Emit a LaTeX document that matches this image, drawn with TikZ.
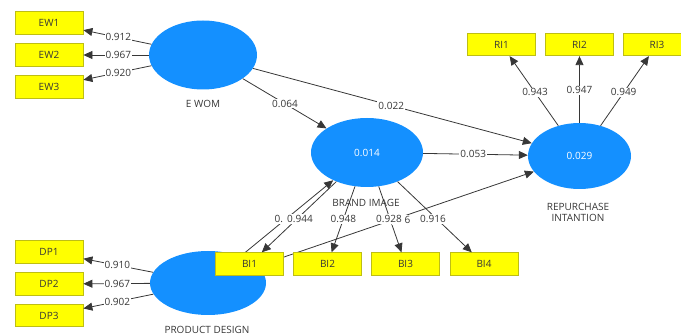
\documentclass[tikz,border=0pt]{standalone}
\usepackage{fontspec}
\setmainfont{Open Sans}
\usetikzlibrary{arrows.meta,shapes.geometric,calc}
\definecolor{lvblue}{RGB}{20,144,255}
\definecolor{mvyellow}{RGB}{255,255,0}
\definecolor{mvedge}{RGB}{190,190,20}
\definecolor{ink}{RGB}{55,55,55}
\tikzset{
  latent/.style={ellipse, fill=lvblue, inner sep=0pt, text=white, font=\fontsize{10}{12}\selectfont},
  indicator/.style={rectangle, fill=mvyellow, draw=mvedge, line width=0.8pt,
    minimum width=68pt, minimum height=22.5pt, inner sep=0pt, text=ink,
    font=\fontsize{10}{12}\selectfont},
  path arrow/.style={draw=ink, line width=0.8pt, -{Triangle[length=9pt,width=8pt]}},
  coef/.style={fill=white, inner sep=1pt, text=ink, font=\fontsize{10}{12}\selectfont},
  caption/.style={text=ink, font=\fontsize{10}{12}\selectfont, align=center}
}
\begin{document}
\begin{tikzpicture}[x=1pt,y=-1pt]
\useasboundingbox (0,0) rectangle (681,336);

% latent variables
\node[latent, minimum width=108pt, minimum height=69pt] (ew) at (203,55) {};
\node[latent, minimum width=112pt, minimum height=69pt] (bi) at (367,152.5) {0.014};
\node[latent, minimum width=103pt, minimum height=66pt] (ri) at (579.5,156) {0.029};
\node[latent, minimum width=116pt, minimum height=64pt] (pd) at (208,283) {};

% captions of the latent variables
\node[caption] (ewcap) at (203,104) {E WOM};
\node[caption] (bicap) at (366,203) {BRAND IMAGE};
\node[caption, inner sep=0pt] (ricap) at (578,212.5) {REPURCHASE\\[-1.5pt]INTANTION};
\node[caption] (pdcap) at (207,330) {PRODUCT DESIGN};

% indicator positions (boxes drawn after the connectors)
\coordinate (ew1c) at (49,23);
\coordinate (ew2c) at (49,55);
\coordinate (ew3c) at (49,87);
\coordinate (dp1c) at (49,252);
\coordinate (dp2c) at (49,284);
\coordinate (dp3c) at (49,315.5);
\coordinate (ri1c) at (501.5,44.5);
\coordinate (ri2c) at (579.5,44.5);
\coordinate (ri3c) at (657,44.5);
\coordinate (bi1c) at (249.5,264);
\coordinate (bi2c) at (327.5,264);
\coordinate (bi3c) at (405.5,264);
\coordinate (bi4c) at (484,264);

\node[indicator] (ew1) at (ew1c) {EW1};
\node[indicator] (ew2) at (ew2c) {EW2};
\node[indicator] (ew3) at (ew3c) {EW3};
\node[indicator] (dp1) at (dp1c) {DP1};
\node[indicator] (dp2) at (dp2c) {DP2};
\node[indicator] (dp3) at (dp3c) {DP3};
\node[indicator] (ri1) at (ri1c) {RI1};
\node[indicator] (ri2) at (ri2c) {RI2};
\node[indicator] (ri3) at (ri3c) {RI3};

% structural paths
\draw[path arrow] (ew) -- (bi);
\draw[path arrow] (ew) -- (ri);
\draw[path arrow] (bi) -- (ri);
\draw[path arrow] (pd) -- (bi);
\draw[path arrow] (pd) -- (ri);

% outer loadings
\draw[path arrow] (ew) -- (ew1);
\draw[path arrow] (ew) -- (ew2);
\draw[path arrow] (ew) -- (ew3);
\draw[path arrow] (pd) -- (dp1);
\draw[path arrow] (pd) -- (dp2);
\draw[path arrow] (pd) -- (dp3);
\draw[path arrow] (ri) -- (ri1);
\draw[path arrow] (ri) -- (ri2);
\draw[path arrow] (ri) -- (ri3);

% brand image indicators sit on top of the paths from product design
\node[indicator] (bi1) at (bi1c) {BI1};
\node[indicator] (bi2) at (bi2c) {BI2};
\node[indicator] (bi3) at (bi3c) {BI3};
\node[indicator] (bi4) at (bi4c) {BI4};
\draw[path arrow] (bi) -- (bi1);
\draw[path arrow] (bi) -- (bi2);
\draw[path arrow] (bi) -- (bi3);
\draw[path arrow] (bi) -- (bi4);

% path coefficients (two of them mostly covered by loadings)
\node[coef] (c1) at ($(ew.center)!0.5!(bi.center)$) {0.064};
\node[coef] (c2) at ($(ew.center)!0.5!(ri.center)$) {0.022};
\node[coef] (c3) at ($(bi.center)!0.5!(ri.center)$) {0.053};
\node[coef, anchor=west] (c4) at (273.5,219) {0.\phantom{00}};
\node[coef, anchor=east] (c5) at (411.5,220) {\phantom{00}6};

% loadings
\node[coef] (l1) at ($(ew.center)!0.55!(ew1c)$) {0.912};
\node[coef] (l2) at ($(ew.center)!0.55!(ew2c)$) {0.967};
\node[coef] (l3) at ($(ew.center)!0.55!(ew3c)$) {0.920};
\node[coef] (l4) at ($(pd.center)!0.57!(dp1c)$) {0.910};
\node[coef] (l5) at ($(pd.center)!0.57!(dp2c)$) {0.967};
\node[coef] (l6) at ($(pd.center)!0.57!(dp3c)$) {0.902};
\node[coef] (l7) at ($(ri.center)!0.57!(ri1c)$) {0.943};
\node[coef] (l8) at ($(ri.center)!0.59!(ri2c)$) {0.947};
\node[coef] (l9) at ($(ri.center)!0.57!(ri3c)$) {0.949};
\node[coef] (l10) at (300,218.5) {0.944};
\node[coef] (l11) at ($(bi.center)!0.6!(bi2c)$) {0.948};
\node[coef] (l12) at (389,219) {0.928};
\node[coef] (l13) at (433,219) {0.916};
\end{tikzpicture}
\end{document}
